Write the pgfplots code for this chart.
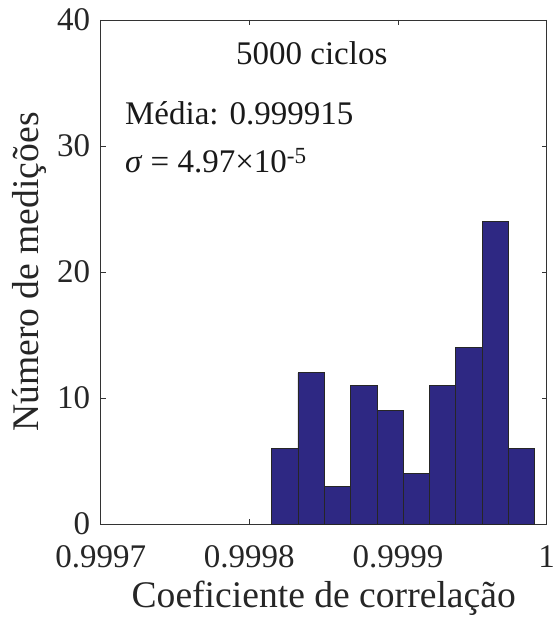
\documentclass[border=0pt]{standalone}
\usepackage{fontspec}
\setmainfont{Liberation Serif}
\usepackage{pgfplots}
\pgfplotsset{compat=1.18}
\definecolor{barfill}{HTML}{2E2883}
\definecolor{axgray}{HTML}{333333}

% x is stored as (r - 0.9997) * 1e5 so that the FPU keeps enough digits
% bin edges / counts of the correlation coefficient histogram
\begin{document}
\begin{tikzpicture}
\begin{axis}[
    scale only axis,
    width=446pt, height=504pt,
    xmin=0, xmax=30,
    ymin=0, ymax=40,
    xtick={0,10,20,30},
    xticklabels={0.9997,0.9998,0.9999,1},
    ytick={0,10,20,30,40},
    tick align=inside,
    major tick length=5pt,
    axis line style={axgray, line width=0.8pt},
    every tick/.style={axgray, line width=0.8pt},
    tick label style={font=\fontsize{33}{36}\selectfont, text=black!85},
    /pgf/number format/assume math mode=true,
    xlabel={Coeficiente de correlação},
    ylabel={Número de medições},
    label style={font=\fontsize{37.6}{40}\selectfont, text=black!85},
    xticklabel style={yshift=-18pt},
    yticklabel style={xshift=-7pt},
    xlabel style={yshift=-6pt},
    ylabel style={yshift=4pt},
]
\addplot[ybar interval, fill=barfill, draw=black!85, line width=0.8pt] coordinates {
    (11.50, 6)
    (13.27, 12)
    (15.04, 3)
    (16.81, 11)
    (18.58, 9)
    (20.35, 4)
    (22.12, 11)
    (23.89, 14)
    (25.66, 24)
    (27.43, 6)
    (29.20, 6)
};
\node[font=\fontsize{33}{36}\selectfont, text=black!90] at (axis cs:14.2,37.4) {5000 ciclos};
\node[font=\fontsize{33}{36}\selectfont, text=black!90, anchor=base west, inner sep=0pt] at (axis cs:1.63,31.67) {Média: 0.999915};
\node[font=\fontsize{33}{36}\selectfont, text=black!90, anchor=base west, inner sep=0pt] at (axis cs:1.63,27.86) {\textit{σ} = 4.97×10\textsuperscript{-5}};
\end{axis}
% page frame close to the reference, wide enough for the "1" tick label
\pgfresetboundingbox
\path[use as bounding box] (-100.7pt,-96pt) rectangle (458pt,524pt);
\end{tikzpicture}
\end{document}
